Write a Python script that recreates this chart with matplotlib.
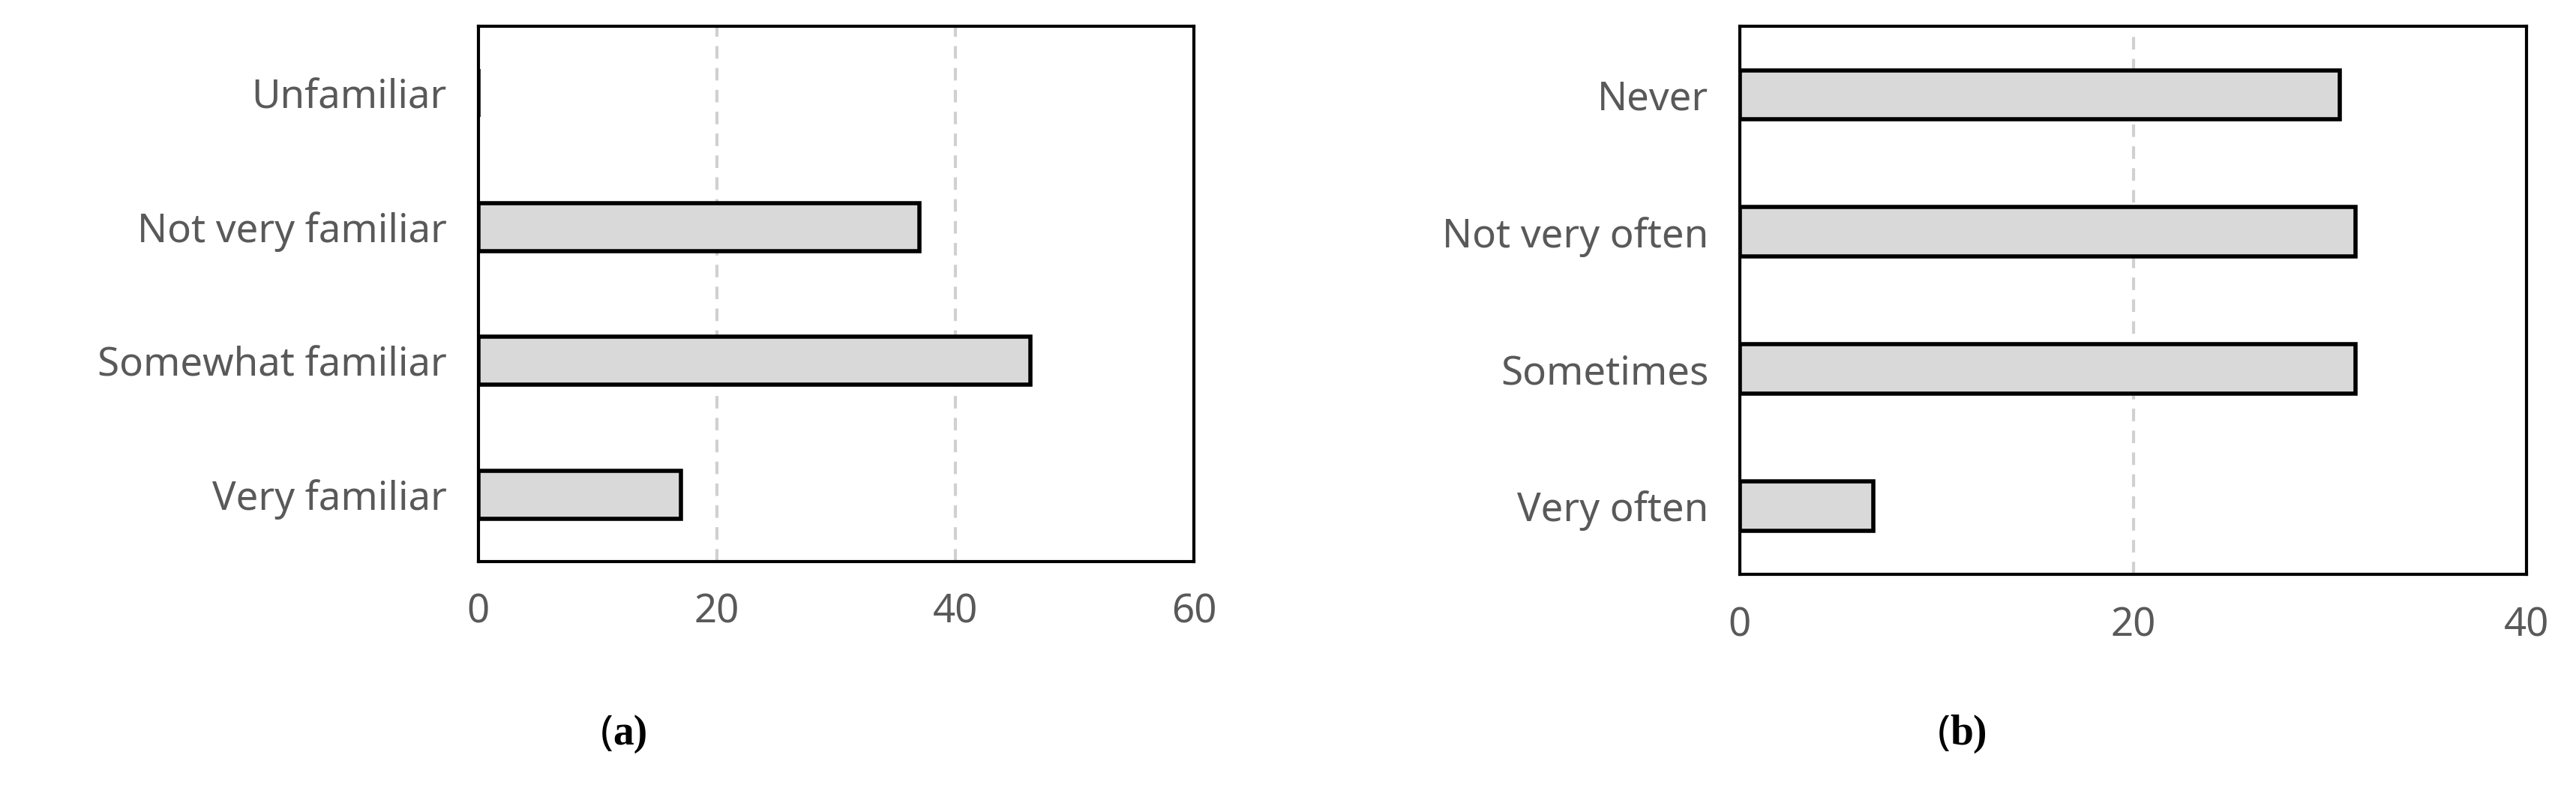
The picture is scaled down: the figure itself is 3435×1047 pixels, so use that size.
import matplotlib
matplotlib.use("Agg")
import matplotlib.pyplot as plt

plt.rcParams["font.family"] = ["Noto Sans", "DejaVu Sans"]

cats_a = ["Unfamiliar", "Not very familiar", "Somewhat familiar", "Very familiar"]
vals_a = [0, 37, 46.3, 17]
cats_b = ["Never", "Not very often", "Sometimes", "Very often"]
vals_b = [30.5, 31.3, 31.3, 6.8]

TXT = "#595959"

fig = plt.figure(figsize=(34.35, 10.47), dpi=100)


def panel(rect, cats, vals, xmax, ticks, letter, lx):
    ax = fig.add_axes(rect)
    y = range(len(cats))
    ax.barh(y, vals, height=0.36, color="#d9d9d9", edgecolor="black", linewidth=4, zorder=3)
    ax.set_yticks(list(y))
    ax.set_yticklabels(cats)
    ax.invert_yaxis()
    ax.set_ylim(len(cats) - 0.5, -0.5)
    ax.set_xlim(0, xmax)
    ax.set_xticks(ticks)
    for t in ticks[1:-1]:
        ax.axvline(t, color="#d0d0d0", ls=(0, (4, 3)), lw=3, zorder=1)
    ax.tick_params(length=0, labelsize=38, colors=TXT, pad=30)
    for s in ax.spines.values():
        s.set_linewidth(3)
    fig.text(lx, 0.065, "(", fontsize=40, ha="right", va="center")
    fig.text(lx, 0.065, letter, fontsize=40, fontweight="bold", ha="left", va="center",
             family=["Liberation Serif", "DejaVu Serif"])
    return ax


panel([0.1856, 0.2845, 0.278, 0.682], cats_a, vals_a, 60, [0, 20, 40, 60], "a)", 0.238)
panel([0.6754, 0.268, 0.3055, 0.6985], cats_b, vals_b, 40, [0, 20, 40], "b)", 0.757)

fig.savefig("out.png", dpi=100)
